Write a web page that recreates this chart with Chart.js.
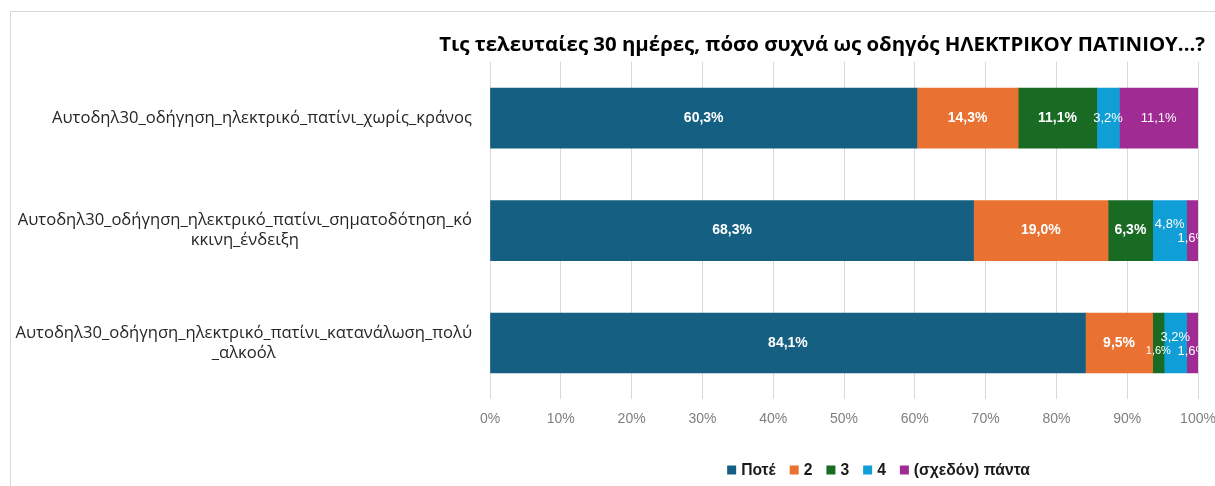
<!DOCTYPE html>
<html><head><meta charset="utf-8">
<script src="https://cdn.jsdelivr.net/npm/chart.js@4"></script>
<style>
html,body{margin:0;padding:0;background:#fff;}
#wrap{position:relative;width:1215px;height:486px;overflow:hidden;}
#frame{position:absolute;left:10px;top:11px;width:1300px;height:600px;border-left:1px solid #d9d9d9;border-top:1px solid #d9d9d9;}
canvas{position:absolute;left:0;top:0;}
</style></head><body>
<div id="wrap"><div id="frame"></div><canvas id="c" width="1215" height="486"></canvas></div>
<script>
const categories = [
  ['Αυτοδηλ30_οδήγηση_ηλεκτρικό_πατίνι_χωρίς_κράνος'],
  ['Αυτοδηλ30_οδήγηση_ηλεκτρικό_πατίνι_σηματοδότηση_κό', 'κκινη_ένδειξη'],
  ['Αυτοδηλ30_οδήγηση_ηλεκτρικό_πατίνι_κατανάλωση_πολύ', '_αλκοόλ']
];
const seriesNames = ['Ποτέ', '2', '3', '4', '(σχεδόν) πάντα'];
const never  = [60.3, 68.3, 84.1];
const two    = [14.3, 19.0, 9.5];
const three  = [11.1, 6.3, 1.6];
const four   = [3.2, 4.8, 3.2];
const always = [11.1, 1.6, 1.6];
const xTickValues = [0, 10, 20, 30, 40, 50, 60, 70, 80, 90, 100];
const titleText = 'Τις τελευταίες 30 ημέρες, πόσο συχνά ως οδηγός ΗΛΕΚΤΡΙΚΟΥ ΠΑΤΙΝΙΟΥ...?';

const colors = ['#156082', '#E97132', '#196B24', '#0F9ED5', '#A02B93'];
const seriesValues = [never, two, three, four, always];

const fmt = v => v.toFixed(1).replace('.', ',') + '%';

const titlePlugin = {
  id: 'customTitle',
  afterDraw(chart) {
    const ctx = chart.ctx;
    ctx.save();
    ctx.font = 'bold 20.4px "Open Sans"';
    ctx.fillStyle = '#000';
    ctx.textAlign = 'right';
    ctx.textBaseline = 'middle';
    ctx.fillText(titleText, chart.width - 10, 45);
    ctx.restore();
  }
};

const yLabelPlugin = {
  id: 'yLabels',
  afterDraw(chart) {
    const ctx = chart.ctx, sc = chart.scales.y;
    ctx.save();
    ctx.font = '16.6px "Open Sans"';
    ctx.fillStyle = '#262626';
    ctx.textBaseline = 'middle';
    ctx.textAlign = 'center';
    const right = sc.right - 18;
    const lh = 20;
    chart.data.labels.forEach((lines, i) => {
      const yc = sc.getPixelForValue(i);
      const w = Math.max(...lines.map(l => ctx.measureText(l).width));
      const cx = right - w / 2;
      lines.forEach((l, k) => {
        ctx.fillText(l, cx, yc + (k - (lines.length - 1) / 2) * lh);
      });
    });
    ctx.restore();
  }
};

const segLabelPlugin = {
  id: 'segLabels',
  afterDatasetsDraw(chart) {
    const ctx = chart.ctx, a = chart.chartArea;
    ctx.save();
    ctx.beginPath();
    ctx.rect(a.left, a.top, a.right - a.left, a.bottom - a.top);
    ctx.clip();
    ctx.textAlign = 'center';
    ctx.textBaseline = 'middle';
    ctx.fillStyle = '#ffffff';
    chart.data.labels.forEach((_, i) => {
      const vals = chart.data.datasets.map(d => d.data[i]);
      vals.forEach((v, j) => {
        const el = chart.getDatasetMeta(j).data[i];
        const small = v < 5;
        const run = small && ((j > 0 && vals[j - 1] < 5) || (j < vals.length - 1 && vals[j + 1] < 5));
        const dy = run ? (j % 2 === 1 ? -6 : 8) : 0;
        const bold = j < 3 && !small;
        const size = bold ? 14 : (small && j === 2 ? 11 : 13);
        ctx.font = (bold ? 'bold ' : '') + size + 'px "Liberation Sans"';
        const cx = (el.x + el.base) / 2;
        ctx.fillText(fmt(v), cx, el.y + dy);
      });
    });
    ctx.restore();
  }
};

const legendPlugin = {
  id: 'customLegend',
  afterDraw(chart) {
    const ctx = chart.ctx;
    ctx.save();
    ctx.font = 'bold 15.7px "Liberation Sans"';
    ctx.textBaseline = 'middle';
    ctx.textAlign = 'left';
    const box = 9, gapBT = 5, gapItem = 14;
    const widths = seriesNames.map(n => box + gapBT + ctx.measureText(n).width);
    const total = widths.reduce((s, w) => s + w, 0) + gapItem * (seriesNames.length - 1);
    let x = 878.5 - total / 2;
    const y = 470;
    seriesNames.forEach((n, k) => {
      ctx.fillStyle = colors[k];
      ctx.fillRect(x, y - box / 2, box, box);
      ctx.fillStyle = '#1a1a1a';
      ctx.fillText(n, x + box + gapBT, y + 1);
      x += widths[k] + gapItem;
    });
    ctx.restore();
  }
};

new Chart(document.getElementById('c'), {
  type: 'bar',
  data: {
    labels: categories,
    datasets: seriesNames.map((n, k) => ({
      label: n,
      data: seriesValues[k],
      backgroundColor: colors[k],
      borderWidth: 0,
      barThickness: 60
    }))
  },
  options: {
    indexAxis: 'y',
    responsive: false,
    animation: false,
    layout: { padding: { left: 0, right: 17, top: 62, bottom: 46 } },
    plugins: {
      legend: { display: false },
      tooltip: { enabled: false },
      title: { display: false }
    },
    scales: {
      x: {
        stacked: true,
        min: 0, max: 100,
        afterBuildTicks: s => { s.ticks = xTickValues.map(v => ({ value: v })); },
        afterFit: s => { s.paddingRight = 0; s.paddingLeft = 0; },
        grid: { color: '#d9d9d9', drawTicks: false },
        border: { display: false },
        ticks: {
          callback: v => v + '%',
          color: '#7f7f7f',
          padding: 12,
          font: { family: '"Liberation Sans"', size: 14 }
        }
      },
      y: {
        stacked: true,
        grid: { display: false },
        border: { display: false },
        ticks: { display: false },
        afterFit: s => { s.width = 490; }
      }
    }
  },
  plugins: [titlePlugin, yLabelPlugin, segLabelPlugin, legendPlugin]
});
</script>
</body></html>
